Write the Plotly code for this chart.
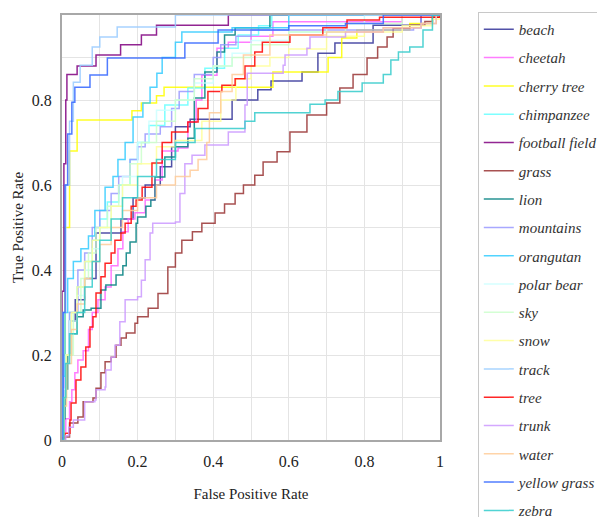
import plotly.graph_objects as go

classes = ["beach", "cheetah", "cherry tree", "chimpanzee", "football field", "grass",
           "lion", "mountains", "orangutan", "polar bear", "sky", "snow", "track",
           "tree", "trunk", "water", "yellow grass", "zebra"]

colors = ["#333399", "#ff66ff", "#ffff00", "#66ffff", "#800080", "#993333",
          "#008080", "#9999ff", "#33ccff", "#ccffff", "#ccffcc", "#ffff99", "#99ccff",
          "#ff0000", "#cc99ff", "#ffcc99", "#3366ff", "#33cccc"]

fpr_beach = [0, 0.004, 0.01, 0.02, 0.035, 0.06, 0.09, 0.156, 0.188, 0.22, 0.26, 0.29, 0.30, 0.339, 0.45, 0.518, 0.553, 0.635, 0.677, 0.722, 0.823, 0.95, 1]
tpr_beach = [0, 0.1, 0.2, 0.28, 0.33, 0.38, 0.487, 0.52, 0.57, 0.6, 0.643, 0.69, 0.737, 0.755, 0.80, 0.824, 0.845, 0.866, 0.91, 0.934, 0.976, 1.0, 1.0]

fpr_cheetah = [0, 0.005, 0.01, 0.02, 0.026, 0.034, 0.042, 0.056, 0.07, 0.08, 0.095, 0.114, 0.13, 0.148, 0.161, 0.175, 0.193, 0.22, 0.246, 0.265, 0.307, 0.333, 0.355, 0.37, 0.41, 0.44, 0.5, 0.558, 0.9, 1]
tpr_cheetah = [0, 0.02, 0.05, 0.09, 0.118, 0.158, 0.188, 0.21, 0.26, 0.3, 0.33, 0.36, 0.41, 0.45, 0.49, 0.52, 0.535, 0.565, 0.612, 0.68, 0.687, 0.748, 0.80, 0.858, 0.922, 0.936, 0.95, 0.984, 1.0, 1.0]

fpr_cherry = [0, 0.003, 0.008, 0.02, 0.04, 0.185, 0.21, 0.25, 0.27, 0.558, 0.704, 0.74, 0.78, 0.92, 0.98, 1]
tpr_cherry = [0, 0.2, 0.5, 0.68, 0.753, 0.775, 0.793, 0.81, 0.83, 0.866, 0.90, 0.946, 0.965, 0.98, 1.0, 1.0]

fpr_chimp = [0, 0.004, 0.01, 0.02, 0.04, 0.06, 0.08, 0.1, 0.12, 0.15, 0.18, 0.2, 0.23, 0.272, 0.333, 0.378, 0.43, 0.466, 0.52, 0.555, 1]
tpr_chimp = [0, 0.1, 0.2, 0.3, 0.36, 0.42, 0.47, 0.52, 0.56, 0.6, 0.66, 0.7, 0.74, 0.788, 0.828, 0.875, 0.922, 0.953, 0.975, 1.0, 1.0]

fpr_football = [0, 0, 0.005, 0.01, 0.013, 0.04, 0.09, 0.155, 0.21, 0.25, 0.44, 1]
tpr_football = [0, 0.35, 0.65, 0.8, 0.86, 0.88, 0.906, 0.93, 0.953, 0.976, 1.0, 1.0]

fpr_grass = [0, 0.008, 0.02, 0.042, 0.056, 0.082, 0.09, 0.103, 0.114, 0.13, 0.143, 0.156, 0.17, 0.193, 0.2, 0.228, 0.254, 0.28, 0.3, 0.317, 0.345, 0.37, 0.405, 0.43, 0.458, 0.48, 0.51, 0.532, 0.569, 0.603, 0.648, 0.70, 0.735, 0.77, 0.807, 0.835, 0.86, 0.876, 0.92, 0.96, 0.98, 1]
tpr_grass = [0, 0.007, 0.04, 0.054, 0.09, 0.099, 0.122, 0.158, 0.184, 0.195, 0.223, 0.24, 0.252, 0.275, 0.29, 0.31, 0.345, 0.407, 0.44, 0.47, 0.49, 0.51, 0.534, 0.555, 0.58, 0.60, 0.623, 0.654, 0.678, 0.725, 0.765, 0.793, 0.828, 0.86, 0.899, 0.925, 0.948, 0.969, 0.976, 0.985, 0.995, 1.0]

fpr_lion = [0, 0.003, 0.008, 0.015, 0.025, 0.04, 0.056, 0.077, 0.103, 0.116, 0.143, 0.161, 0.17, 0.18, 0.196, 0.2, 0.222, 0.235, 0.246, 0.272, 0.30, 0.333, 0.35, 0.378, 0.41, 0.43, 0.458, 0.55, 1]
tpr_lion = [0, 0.05, 0.12, 0.2, 0.25, 0.29, 0.306, 0.31, 0.353, 0.365, 0.388, 0.41, 0.44, 0.466, 0.51, 0.525, 0.55, 0.565, 0.619, 0.666, 0.69, 0.71, 0.805, 0.866, 0.913, 0.953, 0.97, 1.0, 1.0]

fpr_mount = [0, 0.003, 0.008, 0.02, 0.042, 0.06, 0.08, 0.1, 0.13, 0.15, 0.18, 0.2, 0.22, 0.26, 0.29, 0.31, 0.35, 0.40, 0.42, 0.46, 0.5, 0.93, 0.95, 1]
tpr_mount = [0, 0.1, 0.2, 0.3, 0.4, 0.44, 0.5, 0.54, 0.58, 0.62, 0.66, 0.69, 0.72, 0.737, 0.78, 0.82, 0.86, 0.90, 0.93, 0.95, 0.965, 0.97, 1.0, 1.0]

fpr_orang = [0, 0.003, 0.008, 0.015, 0.03, 0.05, 0.07, 0.087, 0.114, 0.135, 0.148, 0.167, 0.188, 0.214, 0.233, 0.251, 0.265, 0.30, 0.317, 0.45, 0.6, 1]
tpr_orang = [0, 0.15, 0.3, 0.38, 0.42, 0.45, 0.48, 0.54, 0.595, 0.62, 0.66, 0.70, 0.76, 0.793, 0.83, 0.863, 0.90, 0.936, 0.96, 0.97, 1.0, 1.0]

fpr_polar = [0, 0.005, 0.01, 0.02, 0.04, 0.06, 0.08, 0.1, 0.13, 0.16, 0.2, 0.23, 0.25, 0.3, 0.35, 0.4, 0.45, 0.5, 0.6, 0.7, 0.8, 1]
tpr_polar = [0, 0.12, 0.2, 0.28, 0.34, 0.4, 0.45, 0.5, 0.55, 0.62, 0.7, 0.75, 0.776, 0.8, 0.84, 0.88, 0.91, 0.94, 0.96, 0.98, 1.0, 1.0]

fpr_sky = [0, 0.005, 0.01, 0.03, 0.05, 0.07, 0.09, 0.12, 0.15, 0.18, 0.21, 0.25, 0.3, 0.35, 0.4, 0.45, 0.5, 0.6, 0.75, 0.9, 1]
tpr_sky = [0, 0.1, 0.2, 0.3, 0.38, 0.44, 0.5, 0.55, 0.6, 0.65, 0.7, 0.75, 0.8, 0.85, 0.88, 0.9, 0.93, 0.96, 0.98, 1.0, 1.0]

fpr_snow = [0, 0.005, 0.012, 0.025, 0.04, 0.06, 0.08, 0.1, 0.13, 0.16, 0.2, 0.25, 0.3, 0.37, 0.42, 0.46, 0.5, 0.55, 0.6, 0.7, 0.8, 0.9, 0.98, 1]
tpr_snow = [0, 0.1, 0.2, 0.3, 0.36, 0.42, 0.47, 0.5, 0.55, 0.6, 0.65, 0.69, 0.705, 0.75, 0.80, 0.85, 0.88, 0.9, 0.92, 0.95, 0.96, 0.975, 0.99, 1.0]

fpr_track = [0, 0.003, 0.01, 0.02, 0.03, 0.048, 0.08, 0.10, 0.146, 0.30, 1]
tpr_track = [0, 0.3, 0.6, 0.75, 0.842, 0.882, 0.925, 0.948, 0.972, 1.0, 1.0]

fpr_tree = [0, 0.004, 0.008, 0.021, 0.024, 0.037, 0.05, 0.063, 0.074, 0.082, 0.09, 0.103, 0.114, 0.13, 0.14, 0.156, 0.167, 0.183, 0.196, 0.212, 0.238, 0.265, 0.29, 0.333, 0.36, 0.386, 0.423, 0.458, 0.484, 0.51, 0.53, 0.603, 0.69, 0.754, 0.84, 1]
tpr_tree = [0, 0.005, 0.016, 0.047, 0.087, 0.141, 0.172, 0.219, 0.266, 0.29, 0.346, 0.384, 0.416, 0.44, 0.47, 0.487, 0.51, 0.55, 0.565, 0.595, 0.652, 0.70, 0.725, 0.748, 0.78, 0.82, 0.835, 0.85, 0.88, 0.913, 0.936, 0.953, 0.97, 0.988, 0.995, 1.0]

fpr_trunk = [0, 0.01, 0.018, 0.03, 0.06, 0.087, 0.09, 0.114, 0.116, 0.13, 0.14, 0.153, 0.167, 0.2, 0.21, 0.22, 0.233, 0.24, 0.30, 0.312, 0.325, 0.344, 0.378, 0.44, 0.484, 0.49, 0.585, 0.59, 0.648, 0.656, 0.75, 0.85, 0.95, 0.99, 1]
tpr_trunk = [0, 0.01, 0.03, 0.047, 0.09, 0.094, 0.118, 0.125, 0.165, 0.195, 0.223, 0.278, 0.33, 0.337, 0.376, 0.424, 0.487, 0.51, 0.513, 0.58, 0.65, 0.67, 0.694, 0.725, 0.788, 0.863, 0.882, 0.906, 0.922, 0.948, 0.96, 0.97, 0.98, 1.0, 1.0]

fpr_water = [0, 0.005, 0.012, 0.025, 0.04, 0.06, 0.08, 0.1, 0.13, 0.16, 0.2, 0.25, 0.3, 0.339, 0.36, 0.383, 0.39, 0.42, 0.45, 0.48, 0.55, 0.7, 0.85, 0.95, 0.99, 1]
tpr_water = [0, 0.08, 0.18, 0.26, 0.32, 0.38, 0.42, 0.46, 0.5, 0.54, 0.57, 0.6, 0.62, 0.635, 0.66, 0.70, 0.77, 0.82, 0.86, 0.906, 0.953, 0.96, 0.97, 0.98, 1.0, 1.0]

fpr_ygrass = [0, 0.003, 0.008, 0.015, 0.026, 0.034, 0.074, 0.12, 0.325, 0.413, 0.6, 0.75, 0.85, 1]
tpr_ygrass = [0, 0.3, 0.6, 0.72, 0.795, 0.83, 0.859, 0.899, 0.934, 0.965, 0.975, 0.98, 1.0, 1.0]

fpr_zebra = [0, 0.005, 0.01, 0.02, 0.04, 0.06, 0.08, 0.1, 0.13, 0.16, 0.2, 0.25, 0.3, 0.352, 0.484, 0.51, 0.656, 0.696, 0.73, 0.794, 0.85, 0.87, 0.89, 0.92, 0.955, 0.98, 1]
tpr_zebra = [0, 0.1, 0.18, 0.25, 0.3, 0.36, 0.42, 0.47, 0.52, 0.57, 0.62, 0.66, 0.70, 0.733, 0.75, 0.77, 0.79, 0.80, 0.82, 0.84, 0.86, 0.894, 0.913, 0.925, 0.965, 1.0, 1.0]

fprs = [fpr_beach, fpr_cheetah, fpr_cherry, fpr_chimp, fpr_football, fpr_grass, fpr_lion,
        fpr_mount, fpr_orang, fpr_polar, fpr_sky, fpr_snow, fpr_track, fpr_tree, fpr_trunk,
        fpr_water, fpr_ygrass, fpr_zebra]
tprs = [tpr_beach, tpr_cheetah, tpr_cherry, tpr_chimp, tpr_football, tpr_grass, tpr_lion,
        tpr_mount, tpr_orang, tpr_polar, tpr_sky, tpr_snow, tpr_track, tpr_tree, tpr_trunk,
        tpr_water, tpr_ygrass, tpr_zebra]

tick_vals = [0, 0.2, 0.4, 0.6, 0.8, 1]
tick_text = ["0", "0.2", "0.4", "0.6", "0.8", "1"]

serif = "Liberation Serif, Times New Roman, serif"

fig = go.Figure()
for name, col, fx, ty in zip(classes, colors, fprs, tprs):
    fig.add_trace(go.Scatter(
        x=fx, y=ty, mode="lines", name=name, legendgroup=name,
        line=dict(color=col, width=1.5, shape="hv"), opacity=0.85,
    ))

axis_common = dict(
    range=[0, 1], tickvals=tick_vals, ticktext=tick_text,
    showgrid=True, gridcolor="#e4e4e4", gridwidth=1,
    minor=dict(dtick=0.1, showgrid=True, gridcolor="#e4e4e4", gridwidth=1),
    showline=True, linecolor="#a8a8a8", linewidth=2, mirror=True,
    zeroline=False, ticks="", automargin=False,
    tickfont=dict(family=serif, size=16, color="#222222"),
)

fig.update_xaxes(**axis_common, ticklabelstandoff=6,
                 title=dict(text="False Positive Rate", font=dict(family=serif, size=15, color="#222222"), standoff=19))
fig.update_yaxes(**axis_common, ticklabelstandoff=5,
                 title=dict(text="True Positive Rate", font=dict(family=serif, size=15, color="#222222"), standoff=5))

# the page places the figure 8 px in from the top-left corner of the window
fig.update_layout(
    width=597, height=509,
    margin=dict(l=54, r=165, t=7, b=77, autoexpand=False),
    paper_bgcolor="white", plot_bgcolor="white",
    showlegend=True,
    legend=dict(
        x=1.1, xanchor="left", y=1.007, yanchor="top",
        font=dict(family=serif, size=15, color="#333333", style="italic"),
        bordercolor="#c8c8c8", borderwidth=1, bgcolor="white",
        tracegroupgap=5.8, itemwidth=30, maxheight=1000,
    ),
)

fig.write_html("out.html")
